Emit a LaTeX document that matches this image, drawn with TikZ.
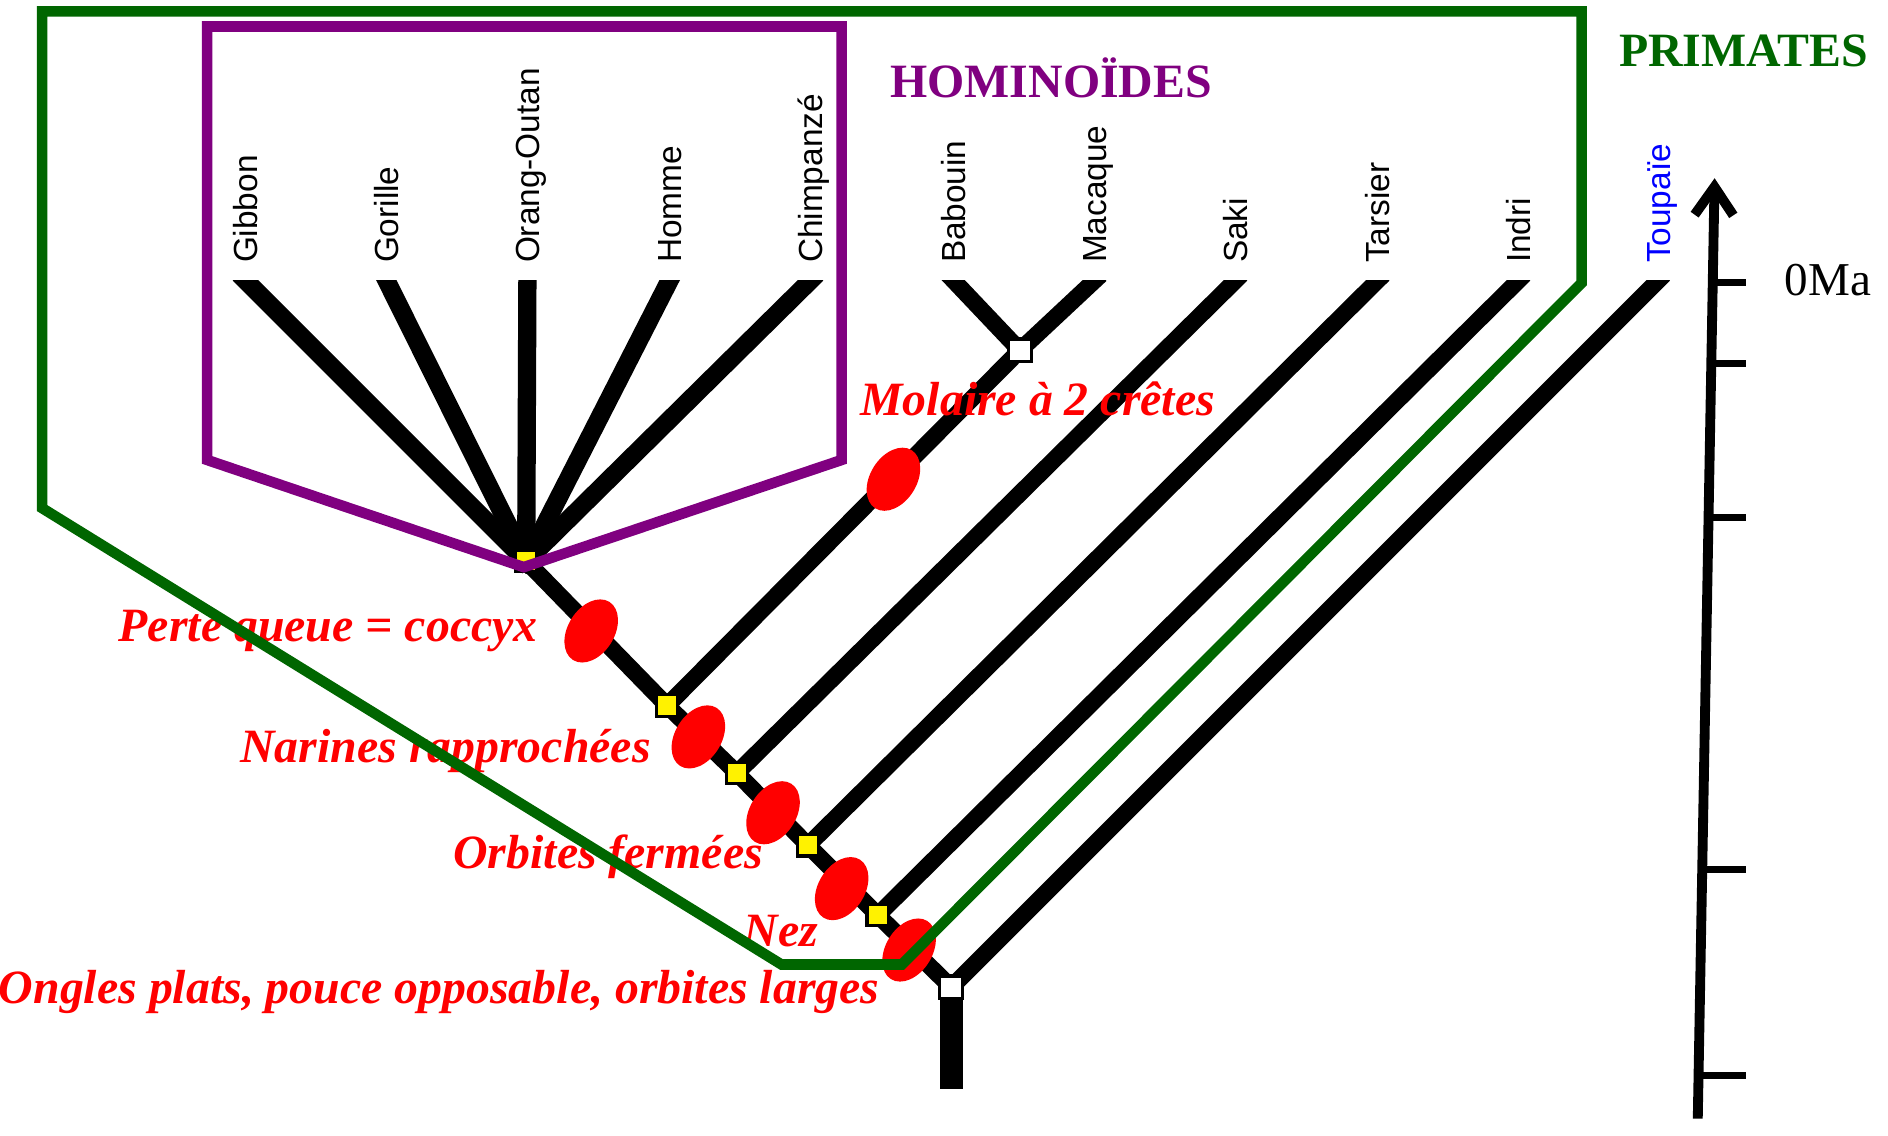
\documentclass[tikz,border=0pt]{standalone}
\usepackage{fontspec}
\setmainfont{Liberation Serif}
\newfontfamily\leaffont{Liberation Sans}
\usetikzlibrary{calc,shapes.geometric,arrows.meta}

\definecolor{primgreen}{RGB}{0,102,0}
\definecolor{hompurple}{RGB}{128,0,128}

\tikzset{
  branch/.style={black, line width=4.8pt, line cap=rect},
  leaflabel/.style={rotate=90, anchor=base west, inner sep=0pt, font=\leaffont\fontsize{9.5}{11}\selectfont},
  synapo/.style={ellipse, fill=red, minimum width=19.5pt, minimum height=13.2pt, inner sep=0pt, rotate=58},
  synlabel/.style={red, inner sep=0pt, font=\fontsize{13.6}{16}\selectfont\bfseries\itshape},
  cladeknot/.style={draw=black, line width=0.9pt, fill=yellow, minimum size=6.1pt, inner sep=0pt},
  rootknot/.style={cladeknot, fill=white, minimum size=6.5pt},
  cladetitle/.style={inner sep=0pt, anchor=base, font=\fontsize{13.6}{16}\selectfont\bfseries},
}

\begin{document}
\begin{tikzpicture}[x=0.3425pt, y=-0.3425pt]
\useasboundingbox (0,0) rectangle (1568,943);

\coordinate (hom) at (437,466);
\coordinate (n1) at (554,586);
\coordinate (n2) at (612,642);
\coordinate (n3) at (671,702);
\coordinate (n4) at (729,760);
\coordinate (root) at (790,820);
\coordinate (bm) at (847,291);
\coordinate (trunkend) at (790,904);
\foreach \name/\x in {gibbon/204, gorille/321, orang/438, homme/556, chimp/673, babouin/792, macaque/909, saki/1026, tarsier/1144, indri/1261, toupaie/1377}
  \coordinate (\name) at (\x,233);

% branches, cut flat at the top
\begin{scope}
\clip (0,233) rectangle (1568,943);
\foreach \leaf in {gibbon, gorille, orang, homme, chimp}
  \draw[branch, line width=5.2pt] (hom) -- (\leaf);
\draw[branch] (hom) -- (n1) -- (n2) -- (n3) -- (n4) -- (root);
\draw[branch] (n1) -- (bm);
\draw[branch] (bm) -- (babouin);
\draw[branch] (bm) -- (macaque);
\draw[branch] (n2) -- (saki);
\draw[branch] (n3) -- (tarsier);
\draw[branch] (n4) -- (indri);
\draw[branch] (root) -- (toupaie);
\draw[black, line width=6.5pt] (root) -- (trunkend);
\end{scope}

\node[synapo] (smolaire) at (742,398) {};
\node[synapo] (squeue) at (491,524) {};
\node[synapo] (snarines) at (580,612) {};
\node[synapo] (sorbites) at (642,675) {};
\node[synapo] (snez) at (699,738) {};
\node[synapo] (songles) at (755,789) {};

\node[cladeknot] (khom) at (hom) {};
\node[cladeknot] (kn1) at (n1) {};
\node[cladeknot] (kn2) at (n2) {};
\node[cladeknot] (kn3) at (n3) {};
\node[cladeknot] (kn4) at (n4) {};
\node[rootknot] (kbm) at (bm) {};
\node[rootknot] (kroot) at (root) {};

\foreach \name/\txt in {gibbon/Gibbon, gorille/Gorille, orang/Orang-Outan, homme/Homme, chimp/Chimpanzé, babouin/Babouin, macaque/Macaque, saki/Saki, tarsier/Tarsier, indri/Indri}
  \node[leaflabel] (l\name) at ($(\name)+(10,-14)$) {\txt};
\node[leaflabel, blue] (ltoupaie) at ($(toupaie)+(10,-14)$) {Toupaïe};

\node[synlabel, anchor=base west] (tmolaire) at (714,345) {Molaire à 2 crêtes};
\node[synlabel, anchor=base west] (tqueue) at (98,533) {Perte queue = coccyx};
\node[synlabel, anchor=base west] (tnarines) at (199,633) {Narines rapprochées};
\node[synlabel, anchor=base west] (torbites) at (376,721) {Orbites fermées};
\node[synlabel, anchor=base west] (tnez) at (617,786) {Nez};
\node[synlabel, anchor=base east] (tongles) at (731,833) {Ongles plats, pouce opposable, orbites larges};

\draw[hompurple, line width=3pt] (172,22) -- (699,22) -- (699,382) -- (435,471) -- (172,382) -- cycle;
\node[cladetitle, hompurple] (thom) at (873,81) {HOMINOÏDES};

\draw[primgreen, line width=3pt] (35,9.5) -- (1313.5,9.5) -- (1313.5,235) -- (749,801) -- (649,801) -- (35,422) -- cycle;
\node[cladetitle, primgreen] (tprim) at (1448,55) {PRIMATES};

% time axis
\coordinate (tbot) at (1410,929);
\coordinate (ttop) at (1424,148);
\coordinate (tickend) at (1450,0);
\draw[line width=2.8pt, -{Straight Barb[length=8pt,width=11pt]}] (tbot) -- (ttop);
\foreach \t [count=\i] in {0.8886,0.8028,0.6389,0.2650,0.0461}{
  \coordinate (tick\i) at ($(tbot)!\t!(ttop)$);
  \draw[line width=2pt] (tick\i) -- (tick\i -| tickend);
}
\node[inner sep=0pt, anchor=base, font=\fontsize{13.4}{16}\selectfont] (tzero) at (1518,245) {0Ma};
\end{tikzpicture}
\end{document}
